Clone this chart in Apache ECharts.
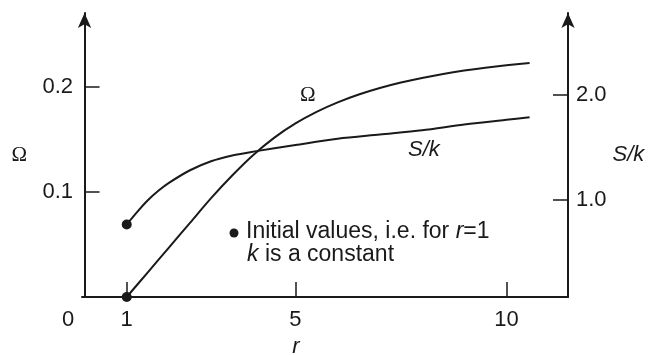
<!DOCTYPE html>
<html>
<head>
<meta charset="utf-8">
<script src="https://cdn.jsdelivr.net/npm/echarts@6/dist/echarts.min.js"></script>
<style>
  html, body { margin: 0; padding: 0; background: #fff; }
  #chart { width: 651px; height: 355px; }
</style>
</head>
<body>
<div id="chart"></div>
<script>
// Ω against r (left axis)
const rOmega = [1, 1.5, 2, 2.5, 3, 3.5, 4, 4.5, 5, 5.5, 6, 6.5, 7, 7.5, 8, 8.5, 9, 9.5, 10, 10.55];
const omega = [0, 0.0235, 0.047, 0.0705, 0.094, 0.1155, 0.135, 0.1515, 0.165, 0.176, 0.185, 0.1925, 0.1987, 0.2039, 0.2083, 0.2121, 0.2153, 0.218, 0.2203, 0.2225];

// S/k against r (right axis)
const rSk = [1, 1.25, 1.5, 1.75, 2, 2.5, 3, 3.5, 4, 5, 6, 7, 8, 9, 10, 10.55];
const sk = [0.77, 0.89, 1.0, 1.09, 1.165, 1.285, 1.37, 1.425, 1.462, 1.525, 1.585, 1.625, 1.665, 1.72, 1.765, 1.788];

// ticks
const xTicks = [1, 5, 10];
const xLabels = [0, 1, 5, 10];
const leftTicks = [0.1, 0.2];
const rightTicks = [1.0, 2.0];

const ink = "#1a1a1a";
const font = "Liberation Sans";

const chart = echarts.init(document.getElementById("chart"));

// 初始点只画第一个
const firstDot = (v, p) => (p.dataIndex === 0 ? 10 : 0);

const axisLine = {
  show: true,
  lineStyle: { color: ink, width: 2 }
};

const option = {
  animation: false,
  backgroundColor: "#fff",
  grid: { left: 82, right: 83, top: 13, bottom: 58, containLabel: false, outerBoundsMode: "none" },
  xAxis: {
    type: "value",
    min: -0.06,
    max: 11.46,
    splitLine: { show: false },
    axisLine: { ...axisLine, onZero: false },
    axisTick: { show: true, inside: true, length: 15, customValues: xTicks, lineStyle: { color: ink, width: 1.5 } },
    axisLabel: {
      customValues: xLabels,
      margin: 12,
      color: ink,
      fontFamily: font,
      fontSize: 22,
      formatter: v => (v === 0 ? "{z|0}" : String(v)),
      rich: { z: { fontFamily: font, fontSize: 22, color: ink, padding: [0, 33, 0, 0] } }
    },
    name: "r",
    nameLocation: "middle",
    nameGap: 34,
    nameTextStyle: { fontFamily: font, fontStyle: "italic", fontSize: 22, color: ink, padding: [0, 58, 0, 0] }
  },
  yAxis: [
    {
      type: "value",
      position: "left",
      min: 0,
      max: 0.27,
      splitLine: { show: false },
      axisLine: { ...axisLine, symbol: ["none", "arrow"], symbolSize: [10, 15] },
      axisTick: { show: true, inside: true, length: 15, customValues: leftTicks, lineStyle: { color: ink, width: 1.5 } },
      axisLabel: {
        customValues: leftTicks,
        margin: 9,
        color: ink,
        fontFamily: font,
        fontSize: 22,
        formatter: v => v.toFixed(1)
      },
      name: "Ω",
      nameLocation: "middle",
      nameRotate: 0,
      nameGap: 55,
      nameTextStyle: { fontFamily: "Liberation Serif", fontSize: 21, color: ink }
    },
    {
      type: "value",
      position: "right",
      min: 0.08,
      max: 2.78,
      splitLine: { show: false },
      axisLine: { ...axisLine, symbol: ["none", "arrow"], symbolSize: [10, 15] },
      axisTick: { show: true, inside: true, length: 15, customValues: rightTicks, lineStyle: { color: ink, width: 1.5 } },
      axisLabel: {
        customValues: rightTicks,
        margin: 8,
        color: ink,
        fontFamily: font,
        fontSize: 22,
        formatter: v => v.toFixed(1)
      },
      name: "S/k",
      nameLocation: "middle",
      nameRotate: 0,
      nameGap: 44,
      nameTextStyle: { fontFamily: font, fontStyle: "italic", fontSize: 22, color: ink }
    }
  ],
  graphic: [
    { type: "text", left: 300, top: 85, style: { text: "Ω", font: "21px 'Liberation Serif'", fill: ink } },
    { type: "text", left: 408, top: 139, style: { text: "S/k", font: "italic 22px 'Liberation Sans'", fill: ink } },
    { type: "circle", shape: { cx: 234, cy: 233, r: 4.5 }, style: { fill: ink } },
    {
      type: "text",
      left: 246,
      top: 220,
      style: {
        text: "Initial values, i.e. for {i|r}={n|1}",
        font: "23px 'Liberation Sans'",
        fill: ink,
        rich: {
          i: { fontFamily: font, fontStyle: "italic", fontSize: 23, fill: ink },
          n: { fontFamily: font, fontSize: 23, fill: ink }
        }
      }
    },
    {
      type: "text",
      left: 247,
      top: 243,
      style: {
        text: "{i|k} is a constant",
        font: "23px 'Liberation Sans'",
        fill: ink,
        rich: { i: { fontFamily: font, fontStyle: "italic", fontSize: 23, fill: ink } }
      }
    }
  ],
  series: [
    {
      name: "Ω",
      type: "line",
      yAxisIndex: 0,
      smooth: 0.3,
      clip: false,
      symbol: "circle",
      symbolSize: firstDot,
      showAllSymbol: true,
      itemStyle: { color: ink },
      lineStyle: { color: ink, width: 2 },
      data: rOmega.map((r, i) => [r, omega[i]])
    },
    {
      name: "S/k",
      type: "line",
      yAxisIndex: 1,
      smooth: 0.3,
      clip: false,
      symbol: "circle",
      symbolSize: firstDot,
      showAllSymbol: true,
      itemStyle: { color: ink },
      lineStyle: { color: ink, width: 2 },
      data: rSk.map((r, i) => [r, sk[i]])
    }
  ]
};

chart.setOption(option);
</script>
</body>
</html>
